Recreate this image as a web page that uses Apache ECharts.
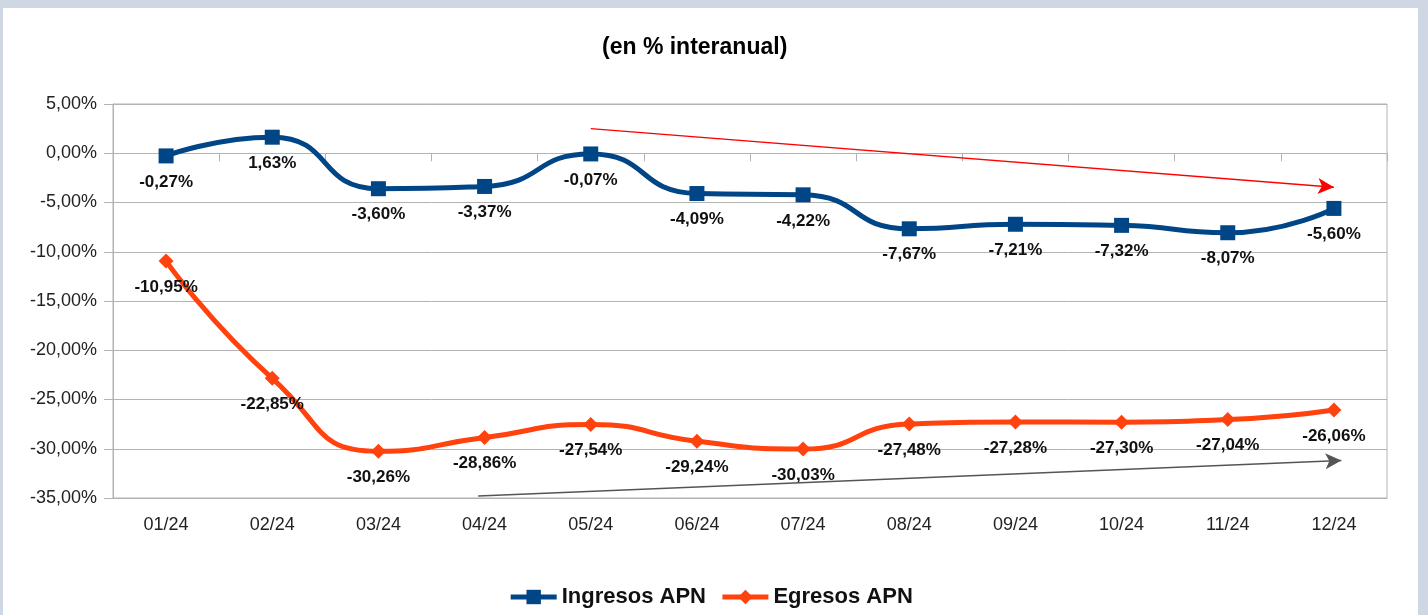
<!DOCTYPE html>
<html>
<head>
<meta charset="utf-8">
<script src="https://cdn.jsdelivr.net/npm/echarts@6/dist/echarts.min.js"></script>
<style>
  html, body { margin: 0; padding: 0; background: #cfd6e4; width: 1428px; height: 615px; overflow: hidden; }
  #chart { position: absolute; left: 3px; top: 8px; width: 1415px; height: 607px; background: #ffffff; }
</style>
</head>
<body>
<div id="chart"></div>
<script>
var months = ['01/24', '02/24', '03/24', '04/24', '05/24', '06/24', '07/24', '08/24', '09/24', '10/24', '11/24', '12/24'];
var ingresos = [-0.27, 1.63, -3.60, -3.37, -0.07, -4.09, -4.22, -7.67, -7.21, -7.32, -8.07, -5.60];
var egresos = [-10.95, -22.85, -30.26, -28.86, -27.54, -29.24, -30.03, -27.48, -27.28, -27.30, -27.04, -26.06];
// trend arrows, in [month index, %] coordinates
var redArrow = [[4, 2.5], [11, -3.45]];
var grayArrow = [[2.94, -34.8], [11.07, -31.2]];

var fmt = function (v) {
  return v.toFixed(2).replace('.', ',') + '%';
};

var dom = document.getElementById('chart');
var chart = echarts.init(dom, null, { renderer: 'canvas' });

var font = '"Liberation Sans", Arial, sans-serif';

var option = {
  animation: false,
  textStyle: { fontFamily: font },
  title: {
    text: '(en % interanual)',
    left: 594,
    top: 23,
    textStyle: { fontSize: 23, fontWeight: 'bold', color: '#000', fontFamily: font }
  },
  legend: {
    bottom: 2,
    left: 'center',
    itemWidth: 46,
    itemHeight: 18,
    itemGap: 14,
    lineStyle: { width: 5 },
    data: ['Ingresos APN', 'Egresos APN'],
    textStyle: { fontSize: 22, fontWeight: 'bold', color: '#111', fontFamily: font }
  },
  grid: {
    left: 110,
    top: 96,
    right: 31,
    bottom: 117,
    show: true,
    borderColor: '#b3b3b3',
    borderWidth: 1
  },
  xAxis: [
    {
      type: 'category',
      data: months,
      boundaryGap: true,
      axisLine: { onZero: false, lineStyle: { color: '#b3b3b3' } },
      axisTick: { show: false },
      axisLabel: { fontSize: 18, color: '#222', margin: 18 }
    },
    {
      type: 'category',
      data: months,
      boundaryGap: true,
      position: 'bottom',
      axisLine: { show: true, onZero: true, lineStyle: { color: '#b3b3b3' } },
      axisTick: { show: true, length: 8, lineStyle: { color: '#b3b3b3' } },
      axisLabel: { show: false }
    },
    {
      type: 'value',
      min: -0.5,
      max: 11.5,
      show: false,
      axisLine: { onZero: false }
    }
  ],
  yAxis: {
    type: 'value',
    min: -35,
    max: 5,
    interval: 5,
    axisLine: { show: true, onZero: false, lineStyle: { color: '#b3b3b3' } },
    axisTick: { show: true, length: 9, lineStyle: { color: '#b3b3b3' } },
    splitLine: { lineStyle: { color: '#b3b3b3' } },
    axisLabel: { fontSize: 18, color: '#222', margin: 16, formatter: fmt }
  },
  series: [
    {
      name: 'Ingresos APN',
      type: 'line',
      data: ingresos,
      smooth: 0.55,
      symbol: 'rect',
      symbolSize: 15,
      color: '#004586',
      lineStyle: { width: 5, color: '#004586' },
      label: {
        show: true,
        position: 'bottom',
        distance: 10,
        fontSize: 17,
        fontWeight: 'bold',
        color: '#111',
        formatter: function (p) { return fmt(p.value); }
      },
      z: 3
    },
    {
      name: 'Egresos APN',
      type: 'line',
      data: egresos,
      smooth: 0.55,
      symbol: 'diamond',
      symbolSize: 15,
      color: '#ff420e',
      lineStyle: { width: 5, color: '#ff420e' },
      label: {
        show: true,
        position: 'bottom',
        distance: 10,
        fontSize: 17,
        fontWeight: 'bold',
        color: '#111',
        formatter: function (p) { return fmt(p.value); }
      },
      z: 3
    },
    {
      name: 'arrows',
      type: 'line',
      xAxisIndex: 2,
      data: [],
      silent: true,
      markLine: {
        silent: true,
        symbol: ['none', 'arrow'],
        symbolSize: [12, 16],
        label: { show: false },
        animation: false,
        data: [
          [
            { coord: redArrow[0], lineStyle: { color: '#ff0000', width: 1.5, type: 'solid' } },
            { coord: redArrow[1] }
          ],
          [
            { coord: grayArrow[0], lineStyle: { color: '#555555', width: 1.5, type: 'solid' } },
            { coord: grayArrow[1] }
          ]
        ]
      }
    }
  ]
};

chart.setOption(option);
window.addEventListener('resize', chart.resize);
</script>
</body>
</html>
